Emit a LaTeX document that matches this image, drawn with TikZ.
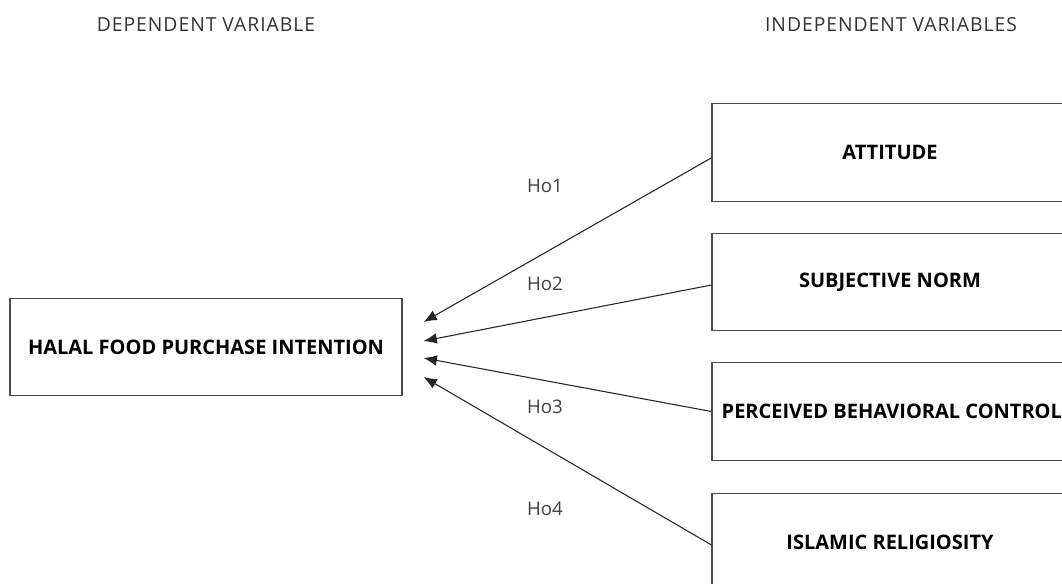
\documentclass[tikz,border=0pt]{standalone}
\usepackage{fontspec}
\setmainfont{Open Sans}
\usepackage{tikz}
\usetikzlibrary{positioning, arrows.meta}

\begin{document}
\begin{tikzpicture}[
		x=0.75pt, y=-0.75pt,
		varbox/.style={rectangle, draw=black!70, line width=0.8pt, inner sep=0pt, minimum height=73pt, font=\bfseries\fontsize{15}{17}\selectfont},
		heading/.style={font=\fontsize{14.5}{16}\selectfont\addfontfeature{LetterSpace=5}, text=black!80},
		hyp/.style={font=\fontsize{14}{16}\selectfont, text=black!75},
		link/.style={-{Latex[length=10pt, width=8pt]}, draw=black!85, line width=0.8pt}
		]
		
		% Page frame
		\clip (0,0) rectangle (1062,583);
		\fill[white] (0,0) rectangle (1062,583);
		
		% Column headings
		\node[heading] (dephead) at (206,25) {DEPENDENT VARIABLE};
		\node[heading] (indhead) at (891,25) {INDEPENDENT VARIABLES};
		
		% Dependent variable
		\node[varbox, minimum width=294pt] (intent) at (206,347) {HALAL FOOD PURCHASE INTENTION};
		
		% Independent variables
		\node[varbox, minimum width=267pt] (att) at (890,152.5) {ATTITUDE};
		\node[varbox, minimum width=267pt] (norm) at (890,282) {SUBJECTIVE NORM};
		\node[varbox, minimum width=267pt] (pbc) at (890,411.5) {};
		\node[anchor=west, font=\bfseries\fontsize{15}{17}\selectfont] (pbctext) at (717,411.5) {PERCEIVED BEHAVIORAL CONTROL};
		\node[varbox, minimum width=267pt] (rel) at (890,542) {ISLAMIC RELIGIOSITY};
		
		% Hypotheses
		\draw[link] ([yshift=-4pt]att.west) -- ([xshift=15.75pt, yshift=18.75pt]intent.east);
		\draw[link] ([yshift=-2.25pt]norm.west) -- ([xshift=15.75pt, yshift=4.5pt]intent.east);
		\draw[link] (pbc.west) -- ([xshift=15.75pt, yshift=-8.25pt]intent.east);
		\draw[link] ([yshift=-2.25pt]rel.west) -- ([xshift=15.75pt, yshift=-22.5pt]intent.east);
		
		\node[hyp] (ho1) at (545,186) {Ho1};
		\node[hyp] (ho2) at (545,284) {Ho2};
		\node[hyp] (ho3) at (545,407) {Ho3};
		\node[hyp] (ho4) at (545,509) {Ho4};
		
	\end{tikzpicture}
\end{document}
